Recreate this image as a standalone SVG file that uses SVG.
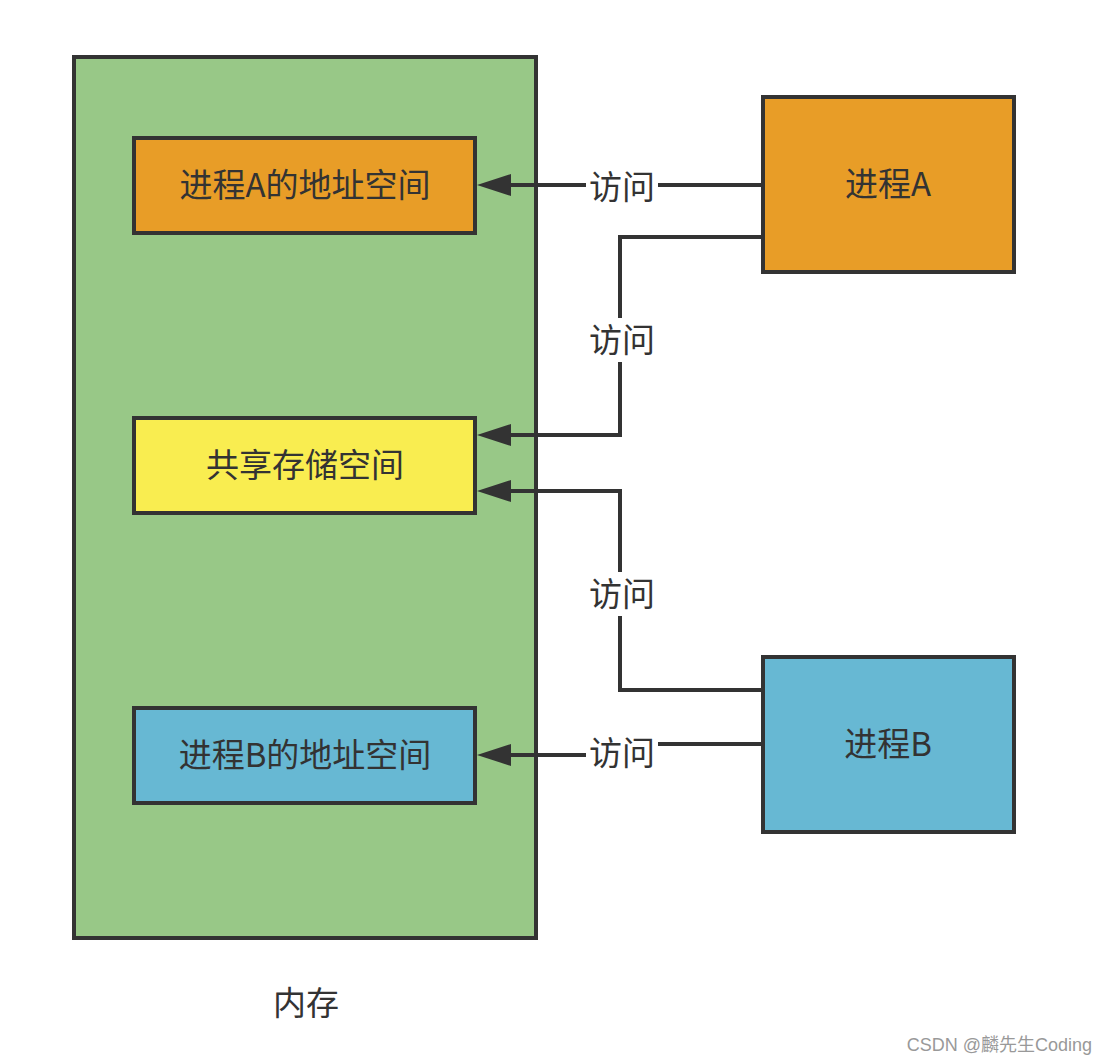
<svg xmlns="http://www.w3.org/2000/svg" width="1107" height="1064" viewBox="0 0 1107 1064">
<style>
.box{stroke:#333;stroke-width:4}
.t{font-family:"Noto Sans CJK SC","Noto Sans",sans-serif;font-size:33px;fill:#333;text-anchor:middle;dominant-baseline:central}
.c{fill:none;stroke:#333;stroke-width:4}
.lbl{fill:#fff}
</style>
<defs>
<marker id="ah" markerUnits="userSpaceOnUse" markerWidth="34" markerHeight="22" refX="0" refY="11" orient="auto" viewBox="0 0 34 22">
<path d="M34,11 L0,0 L0,22 Z" fill="#333"/>
</marker>
</defs>
<rect width="1107" height="1064" fill="#fff"/>
<g id="memory">
<rect class="box" x="74" y="57" width="462" height="881" fill="#98C887"/>
<text class="t" x="306" y="1001">内存</text>
</g>
<g id="addrA">
<rect class="box" x="134" y="138" width="341" height="95" fill="#E89D27"/>
<text class="t" x="305" y="183">进程A的地址空间</text>
</g>
<g id="shared">
<rect class="box" x="134" y="418" width="341" height="95" fill="#F9ED50"/>
<text class="t" x="305" y="463">共享存储空间</text>
</g>
<g id="addrB">
<rect class="box" x="134" y="708" width="341" height="95" fill="#67B8D3"/>
<text class="t" x="305" y="753">进程B的地址空间</text>
</g>
<g id="procA">
<rect class="box" x="763" y="97" width="251" height="175" fill="#E89D27"/>
<text class="t" x="888" y="182">进程A</text>
</g>
<g id="procB">
<rect class="box" x="763" y="657" width="251" height="175" fill="#67B8D3"/>
<text class="t" x="888" y="742">进程B</text>
</g>
<g id="connectors">
<path class="c" d="M763,185 L511,185" marker-end="url(#ah)"/>
<path class="c" d="M763,237 L620,237 L620,435 L511,435" marker-end="url(#ah)"/>
<path class="c" d="M763,690 L620,690 L620,491 L511,491" marker-end="url(#ah)"/>
<path class="c" d="M763,744 L620,744 L620,755 L511,755" marker-end="url(#ah)"/>
<rect class="lbl" x="586" y="166" width="72" height="40"/>
<text class="t" x="622" y="185">访问</text>
<rect class="lbl" x="586" y="318" width="72" height="44"/>
<text class="t" x="622" y="338">访问</text>
<rect class="lbl" x="586" y="572" width="72" height="44"/>
<text class="t" x="622" y="592">访问</text>
<rect class="lbl" x="586" y="732" width="72" height="44"/>
<text class="t" x="622" y="751">访问</text>
</g>
<text x="1092" y="1051" font-family="'Liberation Sans','Noto Sans CJK SC',sans-serif" font-size="18" fill="#999" text-anchor="end">CSDN @麟先生Coding</text>
</svg>
